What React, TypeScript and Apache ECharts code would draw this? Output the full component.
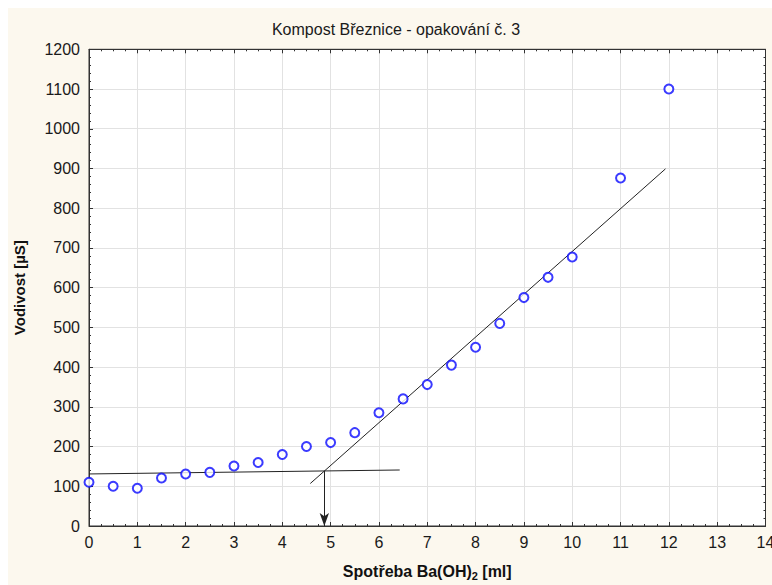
import React, { useEffect, useRef } from 'react';
import * as echarts from 'echarts';

const titleText = 'Kompost Březnice - opakování č. 3';
const xName = 'Spotřeba Ba(OH){sub|2} [ml]';
const yName = 'Vodivost [µS]';

const xValues = [0, 0.5, 1, 1.5, 2, 2.5, 3, 3.5, 4, 4.5, 5, 5.5, 6, 6.5, 7, 7.5, 8, 8.5, 9, 9.5, 10, 11, 12];
const yValues = [110, 100, 95, 121, 131, 135, 151, 160, 180, 200, 210, 235, 285, 320, 356, 405, 450, 510, 575, 626, 677, 876, 1100];

const baselineX = [0, 6.43];
const baselineY = [131, 141];
const slopeX = [4.58, 11.93];
const slopeY = [107, 899];
const arrowX = [4.87, 4.87];
const arrowY = [138.6, 0];

const xMin = 0, xMax = 14, xStep = 1;
const yMin = 0, yMax = 1200, yStep = 100;

export default function App() {
  const ref = useRef<HTMLDivElement>(null);
  useEffect(() => {
    const chart = echarts.init(ref.current!, null, { renderer: 'svg' });
    const font = "'Liberation Sans', Arial, sans-serif";
    const dark = '#333';
    const tickCommon = { show: true, inside: true, length: 4, lineStyle: { color: dark, width: 1 } };
    const minorCommon = { show: true, length: 2, lineStyle: { color: dark, width: 1 } };
    const plain = (v: number) => String(v);
    chart.setOption({
      animation: false,
      backgroundColor: '#fcf8ee',
      textStyle: { fontFamily: font },
      title: {
        text: titleText,
        left: 388,
        top: 13,
        textAlign: 'center',
        padding: 0,
        textStyle: { fontFamily: font, fontSize: 16, fontWeight: 'normal', color: '#1a1a1a' },
      },
      grid: {
        left: 81, right: 6.5, top: 41.3, bottom: 59,
        containLabel: false,
        outerBoundsMode: 'none',
        show: true, backgroundColor: '#ffffff', borderColor: dark, borderWidth: 1,
      },
      xAxis: [
        {
          type: 'value', min: xMin, max: xMax, interval: xStep, position: 'bottom',
          axisLine: { show: true, onZero: false, lineStyle: { color: dark } },
          axisTick: tickCommon,
          minorTick: { ...minorCommon, splitNumber: 4 },
          splitLine: { show: true, lineStyle: { color: '#e2e2e2', width: 1 } },
          axisLabel: { fontSize: 16, margin: 8, color: '#1a1a1a', fontFamily: font, formatter: plain },
          name: xName,
          nameLocation: 'middle',
          nameGap: 36,
          nameTextStyle: {
            fontSize: 16, fontWeight: 'bold', color: '#111', fontFamily: font,
            rich: { sub: { fontSize: 11, fontWeight: 'bold', color: '#111', fontFamily: font, padding: [8, 0, 0, 0] } },
          },
        },
        {
          type: 'value', min: xMin, max: xMax, interval: xStep, position: 'top',
          axisLine: { show: true, onZero: false, lineStyle: { color: dark } },
          axisTick: tickCommon,
          minorTick: { ...minorCommon, splitNumber: 4 },
          splitLine: { show: false },
          axisLabel: { show: false },
        },
      ],
      yAxis: [
        {
          type: 'value', min: yMin, max: yMax, interval: yStep, position: 'left',
          axisLine: { show: true, onZero: false, lineStyle: { color: dark } },
          axisTick: tickCommon,
          minorTick: { ...minorCommon, splitNumber: 5 },
          splitLine: { show: true, lineStyle: { color: '#e2e2e2', width: 1 } },
          axisLabel: { fontSize: 16, margin: 9, color: '#1a1a1a', fontFamily: font, formatter: plain },
          name: yName,
          nameLocation: 'middle',
          nameGap: 62,
          nameTextStyle: { fontSize: 15, fontWeight: 'bold', color: '#111', fontFamily: font },
        },
        {
          type: 'value', min: yMin, max: yMax, interval: yStep, position: 'right',
          axisLine: { show: true, onZero: false, lineStyle: { color: dark } },
          axisTick: tickCommon,
          minorTick: { ...minorCommon, splitNumber: 5 },
          splitLine: { show: false },
          axisLabel: { show: false },
        },
      ],
      series: [
        {
          type: 'line',
          data: baselineX.map((x, i) => [x, baselineY[i]]),
          symbol: 'none',
          lineStyle: { color: '#222', width: 1 },
          silent: true,
          markLine: {
            silent: true,
            symbol: ['none', 'arrow'],
            symbolSize: [7, 13],
            label: { show: false },
            lineStyle: { color: '#222', width: 1, type: 'solid' },
            data: [[{ coord: [arrowX[0], arrowY[0]] }, { coord: [arrowX[1], arrowY[1]] }]],
          },
        },
        {
          type: 'line',
          data: slopeX.map((x, i) => [x, slopeY[i]]),
          symbol: 'none',
          lineStyle: { color: '#222', width: 1 },
          silent: true,
        },
        {
          type: 'scatter',
          data: xValues.map((x, i) => [x, yValues[i]]),
          symbol: 'emptyCircle',
          symbolSize: 9,
          itemStyle: { color: '#0a0aff', borderColor: '#0a0aff', borderWidth: 1.5 },
          z: 5,
        },
      ],
    });
    return () => chart.dispose();
  }, []);
  return (
    <div
      ref={ref}
      style={{ position: 'fixed', left: 8, top: 8, width: 764, height: 577, background: '#fcf8ee' }}
    />
  );
}
